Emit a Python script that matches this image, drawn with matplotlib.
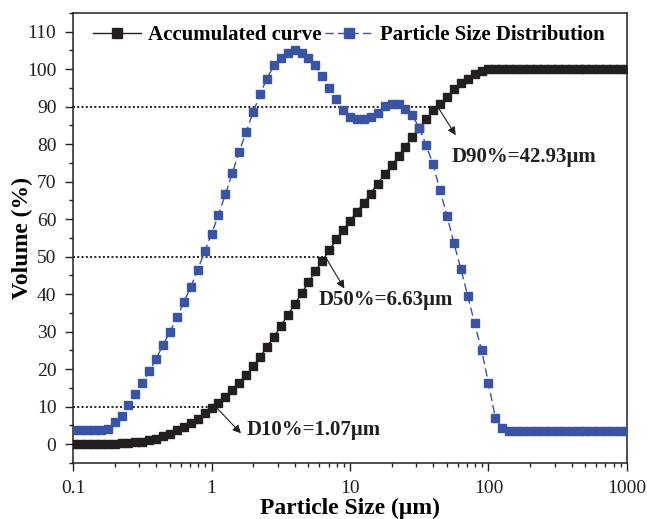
import matplotlib
matplotlib.use('Agg')
import matplotlib.pyplot as plt
from matplotlib.ticker import FixedLocator, MultipleLocator, NullFormatter

plt.rcParams['font.family'] = ['Liberation Serif', 'DejaVu Serif']

# Particle size channels (um)
sizes = [0.1, 0.112, 0.126, 0.141, 0.158, 0.178, 0.2, 0.224, 0.251, 0.282,
         0.316, 0.355, 0.398, 0.447, 0.501, 0.562, 0.631, 0.708, 0.794, 0.891,
         1.0, 1.12, 1.26, 1.41, 1.58, 1.78, 2.0, 2.24, 2.51, 2.82,
         3.16, 3.55, 3.98, 4.47, 5.01, 5.62, 6.31, 7.08, 7.94, 8.91,
         10.0, 11.2, 12.6, 14.1, 15.8, 17.8, 20.0, 22.4, 25.1, 28.2,
         31.6, 35.5, 39.8, 44.7, 50.1, 56.2, 63.1, 70.8, 79.4, 89.1,
         100.0, 112, 126, 141, 158, 178, 200, 224, 251, 282,
         316, 355, 398, 447, 501, 562, 631, 708, 794, 891, 1000]

accumulated = [0.0, 0.0, 0.0, 0.0, 0.0, 0.0, 0.1, 0.2, 0.3, 0.5,
               0.7, 1.1, 1.5, 2.2, 2.8, 3.7, 4.6, 5.7, 6.8, 8.2,
               9.6, 11.1, 12.6, 14.4, 16.4, 18.4, 20.8, 23.3, 26.0, 28.6,
               31.5, 34.4, 37.3, 40.2, 43.2, 46.1, 48.9, 51.7, 54.6, 57.1,
               59.5, 62.0, 64.4, 66.8, 69.5, 72.0, 74.4, 76.8, 79.3, 82.0,
               84.2, 86.6, 89.1, 90.7, 92.6, 94.6, 96.2, 97.5, 98.7, 99.5,
               100, 100, 100, 100, 100, 100, 100, 100, 100, 100,
               100, 100, 100, 100, 100, 100, 100, 100, 100, 100, 100]

distribution = [3.7, 3.7, 3.7, 3.7, 3.8, 4.0, 5.9, 7.5, 10.5, 13.3,
                16.3, 19.4, 22.8, 26.5, 30.0, 33.8, 37.9, 42.0, 46.5, 51.4,
                56.1, 61.1, 66.7, 72.2, 77.9, 83.3, 88.6, 93.3, 97.5, 101.0,
                103.1, 104.4, 105.1, 104.4, 103.1, 101.0, 98.1, 95.1, 92.1, 89.1,
                87.3, 86.6, 86.6, 87.3, 88.4, 90.1, 90.8, 90.7, 89.5, 87.7,
                84.4, 79.7, 74.6, 67.7, 60.9, 53.7, 46.8, 39.6, 32.2, 25.1,
                16.3, 7.1, 4.2, 3.6, 3.6, 3.6, 3.6, 3.6, 3.6, 3.6,
                3.6, 3.6, 3.6, 3.6, 3.6, 3.6, 3.6, 3.6, 3.6, 3.6, 3.6]

# D-values and where their labels / arrows sit
d_points = [1.07, 6.63, 42.93]
d_levels = [10, 50, 90]
d_labels = ['D10%=1.07\u03bcm', 'D50%=6.63\u03bcm', 'D90%=42.93\u03bcm']
d_text_x = [1.78, 5.9, 54.0]
d_text_y = [3.7, 38.4, 76.6]
d_arrow_x = [1.63, 9.1, 58.0]
d_arrow_y = [2.9, 41.5, 82.4]

black = '#231f20'
blue = '#3953a5'

fig = plt.figure(figsize=(6.47, 5.19), dpi=100)
ax = fig.add_axes([0.113, 0.108, 0.856, 0.867])

ax.plot(sizes, accumulated, color=black, lw=1.0, marker='s', ms=5.5,
        mec=black, mfc=black, label='Accumulated curve', zorder=3)
ax.plot(sizes, distribution, color=blue, lw=1.0, ls=(0, (6, 3)), marker='s', ms=5.5,
        mec=blue, mfc=blue, label='Particle Size Distribution', zorder=4)

for d, lvl, lab, tx, ty, axx, ayy in zip(d_points, d_levels, d_labels, d_text_x,
                                         d_text_y, d_arrow_x, d_arrow_y):
    ax.plot([0.1, d], [lvl, lvl], color=black, lw=1.4, ls=(0, (1, 1.2)), zorder=2)
    ax.annotate('', xy=(axx, ayy), xytext=(d, lvl),
                arrowprops=dict(arrowstyle='-|>', color=black, lw=0.8,
                                mutation_scale=12, shrinkA=0, shrinkB=0), zorder=5)
    ax.text(tx, ty, lab, fontsize=15, fontweight='bold', color=black,
            va='center', ha='left', zorder=6)

ax.set_xscale('log')
ax.set_xlim(0.1, 1000)
ax.set_ylim(-5, 115)
ax.xaxis.set_major_locator(FixedLocator([0.1, 1, 10, 100, 1000]))
ax.set_xticklabels(['0.1', '1', '10', '100', '1000'])
ax.xaxis.set_minor_formatter(NullFormatter())
ax.yaxis.set_major_locator(FixedLocator(list(range(0, 111, 10))))
ax.yaxis.set_minor_locator(MultipleLocator(5))

ax.tick_params(which='major', direction='out', length=6, width=1.0,
               labelsize=14, colors=black, pad=6)
ax.tick_params(which='minor', direction='out', length=3, width=1.0, colors=black)
for s in ax.spines.values():
    s.set_linewidth(1.1)
    s.set_color(black)

ax.set_xlabel('Particle Size (\u03bcm)', fontsize=17, fontweight='bold', labelpad=1)
ax.set_ylabel('Volume (%)', fontsize=17, fontweight='bold')
ax.yaxis.set_label_coords(-0.072, 0.5)

leg = ax.legend(loc='upper left', bbox_to_anchor=(0.01, 1.005), ncol=2, frameon=False,
                prop={'weight': 'bold', 'size': 15}, handlelength=2.3, markerscale=1.2,
                handletextpad=0.35, columnspacing=0.15, borderaxespad=0.3)

fig.savefig('out.png', dpi=100)
